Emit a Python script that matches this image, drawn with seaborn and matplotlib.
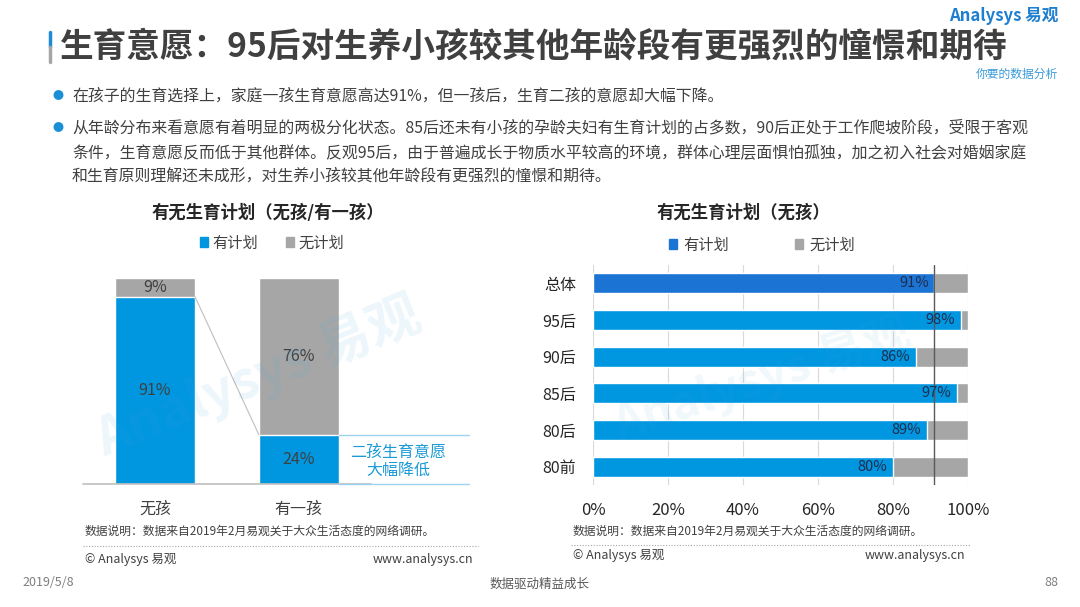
import matplotlib
matplotlib.use("Agg")
import matplotlib.pyplot as plt
from matplotlib.patches import Patch
import seaborn as sns
import pandas as pd

# data
left_cats = ["无孩", "有一孩"]
left_plan = [91, 24]
left_noplan = [9, 76]

right_cats = ["总体", "95后", "90后", "85后", "80后", "80前"]
right_plan = [91, 98, 86, 97, 89, 80]
right_noplan = [9, 2, 14, 3, 11, 20]
right_ticks = [0, 20, 40, 60, 80, 100]

BLUE = "#0096e0"
BLUE_DARK = "#1b74d3"
GRAY = "#a6a6a6"
TXT = "#404040"

W, H = 1080, 607

sns.set_theme(style="white")
plt.rcParams["font.family"] = ["Noto Sans CJK SC", "DejaVu Sans"]


def fx(px):
    return px / W


def fy(py):
    return 1 - py / H


fig = plt.figure(figsize=(10.8, 6.07), dpi=100)

# header
fig.add_artist(plt.Line2D([fx(50), fx(50)], [fy(32), fy(47)], color="#1f8ad4", lw=2.5))
fig.add_artist(plt.Line2D([fx(50), fx(50)], [fy(47), fy(62)], color="#a6a6a6", lw=2.5))
# logo kept clear of the title
fig.text(fx(1058), fy(16), "Analysys 易观", ha="right", va="center", fontsize=12,
         color="#1e7fd0", fontweight="bold")
fig.text(fx(1058), fy(74), "你要的数据分析", ha="right", va="center", fontsize=8.5,
         color="#3a9ad9", style="italic")
fig.text(fx(60), fy(47), "生育意愿：95后对生养小孩较其他年龄段有更强烈的憧憬和期待",
         ha="left", va="center", fontsize=24.2, fontweight="bold", color="#404040", zorder=5)

bullets = [
    (96, "在孩子的生育选择上，家庭一孩生育意愿高达91%，但一孩后，生育二孩的意愿却大幅下降。", True),
    (128, "从年龄分布来看意愿有着明显的两极分化状态。85后还未有小孩的孕龄夫妇有生育计划的占多数，90后正处于工作爬坡阶段，受限于客观", True),
    (153, "条件，生育意愿反而低于其他群体。反观95后，由于普遍成长于物质水平较高的环境，群体心理层面惧怕孤独，加之初入社会对婚姻家庭", False),
    (176, "和生育原则理解还未成形，对生养小孩较其他年龄段有更强烈的憧憬和期待。", False),
]
for y, line, dot in bullets:
    if dot:
        fig.text(fx(58), fy(y), "●", ha="center", va="center", fontsize=8, color="#1a8fd8")
    fig.text(fx(72), fy(y), line, ha="left", va="center", fontsize=11.45, color=TXT)

# left chart
ax1 = fig.add_axes([fx(83), fy(484), fx(470) - fx(83), fy(278) - fy(484)])
df_left = pd.DataFrame({"cat": left_cats, "plan": left_plan,
                        "total": [a + b for a, b in zip(left_plan, left_noplan)]})
sns.barplot(data=df_left, x="cat", y="total", color=GRAY, width=0.556, saturation=1, ax=ax1)
sns.barplot(data=df_left, x="cat", y="plan", color=BLUE, width=0.556, saturation=1, ax=ax1)
ax1.set_xlim(-0.5, 2.19)
ax1.set_ylim(0, 100)
ax1.set_xlabel("")
ax1.set_ylabel("")
ax1.set_yticks([])
for s in ax1.spines.values():
    s.set_visible(False)
ax1.tick_params(axis="x", length=0, pad=12, labelsize=11.5, labelcolor=TXT)
for i, (p, n) in enumerate(zip(left_plan, left_noplan)):
    ax1.text(i, p / 2, f"{p}%", ha="center", va="center", fontsize=11.5, color=TXT)
    ax1.text(i, p + n / 2, f"{n}%", ha="center", va="center", fontsize=11.5, color=TXT)
hw = 0.556 / 2
ax1.plot([0 + hw, 1 - hw], [left_plan[0], left_plan[1]], color="#bfbfbf", lw=0.8)
ax1.plot([-0.5, 1.5], [0, 0], color="#bfbfbf", lw=1.2, clip_on=False)
ax1.plot([1 + hw, 2.18], [0, 0], color="#9dd3f0", lw=1, clip_on=False)
ax1.plot([1 + hw, 2.18], [left_plan[1], left_plan[1]], color="#9dd3f0", lw=1, clip_on=False)
ax1.text(1.69, 11, "二孩生育意愿\n大幅降低", ha="center", va="center", fontsize=11.5,
         color="#1c9ad6", linespacing=1.1)
ax1.text(0.72, 52, "Analysys 易观", rotation=22, ha="center", va="center", fontsize=38,
         color="#4aa8e0", alpha=0.10, fontweight="bold")

fig.text(fx(268), fy(213), "有无生育计划（无孩/有一孩）", ha="center", va="center",
         fontsize=12.5, fontweight="bold", color="#262626")
fig.legend(handles=[Patch(color=BLUE, label="有计划"), Patch(color=GRAY, label="无计划")],
           loc="center", bbox_to_anchor=(fx(272), fy(243)), ncol=2, frameon=False,
           fontsize=11, handlelength=0.55, handleheight=0.55, handletextpad=0.3,
           columnspacing=1.8, labelcolor=TXT)

# right chart
ax2 = fig.add_axes([fx(593), fy(485), fx(968) - fx(593), fy(265) - fy(485)])
df_right = pd.DataFrame({"cat": right_cats, "plan": right_plan,
                         "total": [a + b for a, b in zip(right_plan, right_noplan)]})
sns.barplot(data=df_right, y="cat", x="total", color=GRAY, width=0.55, saturation=1,
            orient="h", ax=ax2, zorder=2)
sns.barplot(data=df_right, y="cat", x="plan", hue="cat",
            palette=[BLUE_DARK] + [BLUE] * (len(right_cats) - 1), legend=False,
            width=0.55, saturation=1, orient="h", ax=ax2, zorder=2)
ax2.set_xlim(0, 100)
ax2.set_ylim(5.5, -0.5)
ax2.set_xticks(right_ticks)
ax2.set_xticklabels([f"{t}%" for t in right_ticks])
ax2.set_xlabel("")
ax2.set_ylabel("")
for s in ax2.spines.values():
    s.set_visible(False)
ax2.grid(False)
for t in right_ticks:
    ax2.axvline(t, color="#d9d9d9", lw=0.8, zorder=1)
ax2.axvline(right_plan[0], color="#595959", lw=1, zorder=3)
ax2.tick_params(axis="x", length=0, pad=12, labelsize=12, labelcolor="#262626")
ax2.tick_params(axis="y", length=0, pad=12, labelsize=11.5, labelcolor="#262626")
for i, p in enumerate(right_plan):
    ax2.text(p - 1.5, i, f"{p}%", ha="right", va="center", fontsize=10.5, color="#1f2d4d", zorder=4)
ax2.text(45, 2.6, "Analysys 易观", rotation=18, ha="center", va="center", fontsize=34,
         color="#4aa8e0", alpha=0.08, fontweight="bold", zorder=3)

fig.text(fx(743), fy(213), "有无生育计划（无孩）", ha="center", va="center",
         fontsize=12.5, fontweight="bold", color="#262626")
fig.legend(handles=[Patch(color=BLUE_DARK, label="有计划"), Patch(color=GRAY, label="无计划")],
           loc="center", bbox_to_anchor=(fx(762), fy(245)), ncol=2, frameon=False,
           fontsize=11, handlelength=0.55, handleheight=0.55, handletextpad=0.4,
           columnspacing=4.3, labelcolor=TXT)

# notes
for x0, x1, ys, yd, yc in [(85, 473, 531, 546, 559), (573, 965, 531, 545, 556)]:
    fig.text(fx(x0), fy(ys), "数据说明：数据来自2019年2月易观关于大众生活态度的网络调研。",
             ha="left", va="center", fontsize=8.5, color=TXT)
    fig.add_artist(plt.Line2D([fx(x0 - 2), fx(x1 + 5)], [fy(yd), fy(yd)], color="#a6a6a6",
                              lw=0.8, ls=(0, (1, 1.5))))
    fig.text(fx(x0), fy(yc), "© Analysys 易观", ha="left", va="center", fontsize=9, color=TXT)
    fig.text(fx(x1), fy(yc), "www.analysys.cn", ha="right", va="center", fontsize=9, color=TXT)

fig.text(fx(22), fy(583), "2019/5/8", ha="left", va="center", fontsize=9, color="#7f7f7f")
fig.text(fx(540), fy(584), "数据驱动精益成长", ha="center", va="center", fontsize=9, color="#595959")
fig.text(fx(1058), fy(583), "88", ha="right", va="center", fontsize=9, color="#7f7f7f")

fig.savefig("out.png", dpi=100)
